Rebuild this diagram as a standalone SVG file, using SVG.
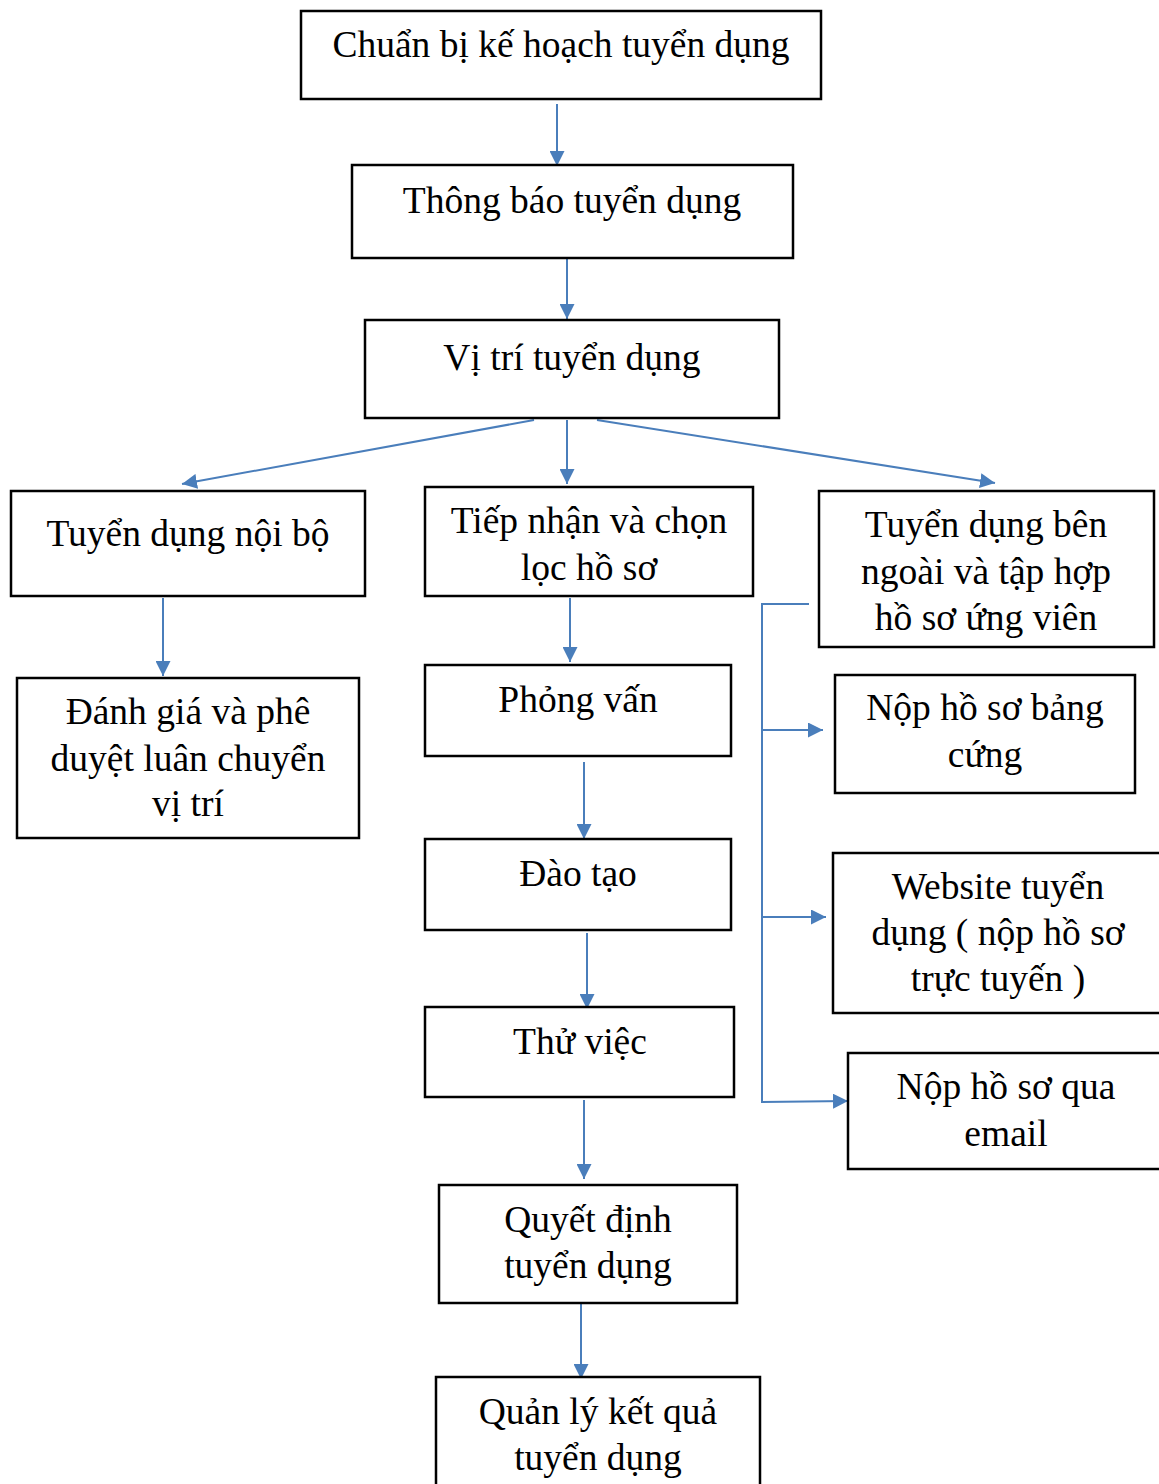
<svg xmlns="http://www.w3.org/2000/svg" width="1159" height="1484" viewBox="0 0 1159 1484">
<style>
.box{fill:#fff;stroke:#000;stroke-width:2.5}
.t{font-family:"Liberation Serif","Times New Roman",serif;font-size:37.5px;fill:#000;text-anchor:middle}
.c{fill:none;stroke:#4A7EBB;stroke-width:2}
</style>
<defs>
<marker id="ah" viewBox="0 0 10 10" refX="10" refY="5" markerWidth="7.5" markerHeight="7.5" markerUnits="strokeWidth" orient="auto">
<path d="M0,0 L10,5 L0,10 z" fill="#4A7EBB"/>
</marker>
</defs>
<rect width="1159" height="1484" fill="#fff"/>
<g id="connectors">
<line class="c" x1="557" y1="104" x2="557" y2="166" marker-end="url(#ah)"/>
<line class="c" x1="567" y1="258" x2="567" y2="319" marker-end="url(#ah)"/>
<line class="c" x1="534" y1="420" x2="182" y2="484" marker-end="url(#ah)"/>
<line class="c" x1="567" y1="420" x2="567" y2="484" marker-end="url(#ah)"/>
<line class="c" x1="597" y1="420" x2="995" y2="483" marker-end="url(#ah)"/>
<line class="c" x1="163" y1="598" x2="163" y2="676" marker-end="url(#ah)"/>
<line class="c" x1="570" y1="598" x2="570" y2="662" marker-end="url(#ah)"/>
<line class="c" x1="584" y1="762" x2="584" y2="839" marker-end="url(#ah)"/>
<line class="c" x1="587" y1="933" x2="587" y2="1009" marker-end="url(#ah)"/>
<line class="c" x1="584" y1="1100" x2="584" y2="1179" marker-end="url(#ah)"/>
<line class="c" x1="581" y1="1303" x2="581" y2="1379" marker-end="url(#ah)"/>
<polyline class="c" points="809,604 762,604 762,1102 848,1101" marker-end="url(#ah)"/>
<line class="c" x1="762" y1="730" x2="823" y2="730" marker-end="url(#ah)"/>
<line class="c" x1="762" y1="917" x2="826" y2="917" marker-end="url(#ah)"/>
</g>
<g id="n1"><rect class="box" x="301" y="11" width="520" height="88"/><text class="t" x="561" y="57">Chuẩn bị kế hoạch tuyển dụng</text></g>
<g id="n2"><rect class="box" x="352" y="165" width="441" height="93"/><text class="t" x="572" y="213">Thông báo tuyển dụng</text></g>
<g id="n3"><rect class="box" x="365" y="320" width="414" height="98"/><text class="t" x="572" y="370">Vị trí tuyển dụng</text></g>
<g id="n4"><rect class="box" x="11" y="491" width="354" height="105"/><text class="t" x="188" y="546">Tuyển dụng nội bộ</text></g>
<g id="n5"><rect class="box" x="425" y="487" width="328" height="109"/><text class="t" x="589" y="533">Tiếp nhận và chọn</text><text class="t" x="589" y="580">lọc hồ sơ</text></g>
<g id="n6"><rect class="box" x="819" y="491" width="335" height="156"/><text class="t" x="986" y="537">Tuyển dụng bên</text><text class="t" x="986" y="584">ngoài và tập hợp</text><text class="t" x="986" y="630">hồ sơ ứng viên</text></g>
<g id="n7"><rect class="box" x="17" y="678" width="342" height="160"/><text class="t" x="188" y="724">Đánh giá và phê</text><text class="t" x="188" y="771">duyệt luân chuyển</text><text class="t" x="188" y="816">vị trí</text></g>
<g id="n8"><rect class="box" x="425" y="665" width="306" height="91"/><text class="t" x="578" y="712">Phỏng vấn</text></g>
<g id="n9"><rect class="box" x="425" y="839" width="306" height="91"/><text class="t" x="578" y="886">Đào tạo</text></g>
<g id="n10"><rect class="box" x="425" y="1007" width="309" height="90"/><text class="t" x="580" y="1054">Thử việc</text></g>
<g id="n11"><rect class="box" x="439" y="1185" width="298" height="118"/><text class="t" x="588" y="1232">Quyết định</text><text class="t" x="588" y="1278">tuyển dụng</text></g>
<g id="n12"><rect class="box" x="436" y="1377" width="324" height="120"/><text class="t" x="598" y="1424">Quản lý kết quả</text><text class="t" x="598" y="1470">tuyển dụng</text></g>
<g id="n13"><rect class="box" x="835" y="675" width="300" height="118"/><text class="t" x="985" y="720">Nộp hồ sơ bảng</text><text class="t" x="985" y="767">cứng</text></g>
<g id="n14"><rect class="box" x="833" y="853" width="331" height="160"/><text class="t" x="998" y="899">Website tuyển</text><text class="t" x="998" y="945">dụng ( nộp hồ sơ</text><text class="t" x="998" y="991">trực tuyến )</text></g>
<g id="n15"><rect class="box" x="848" y="1053" width="316" height="116"/><text class="t" x="1006" y="1099">Nộp hồ sơ qua</text><text class="t" x="1006" y="1146">email</text></g>
</svg>
